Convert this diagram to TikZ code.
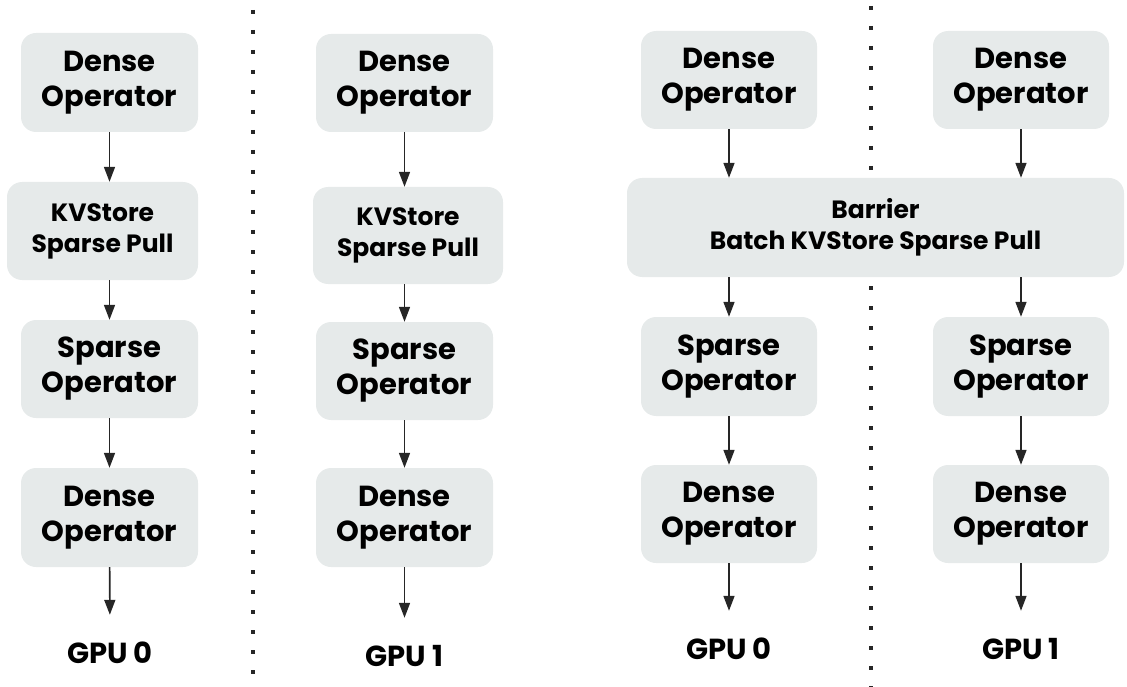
\documentclass[tikz,border=0pt]{standalone}
\usepackage{fontspec}
\setmainfont{Poppins}
\usetikzlibrary{arrows.meta}

\definecolor{boxgray}{HTML}{E6EAEA}
\definecolor{inkgray}{HTML}{262626}

\tikzset{
  op/.style={fill=boxgray, rounded corners=15pt, inner sep=0pt, align=center,
    text=black, font=\bfseries\fontsize{29}{35}\selectfont},
  smallop/.style={op, font=\bfseries\fontsize{25}{31}\selectfont},
  gpu/.style={inner sep=0pt, text height=23pt, text depth=0pt, minimum height=74pt,
    font=\bfseries\fontsize{29}{35}\selectfont},
  flow/.style={draw=inkgray, line width=1.6pt, -{Triangle[length=15pt,width=11pt]}},
  divider/.style={draw=inkgray, line width=4pt, dash pattern=on 4pt off 16pt}
}

\begin{document}
\begin{tikzpicture}[x=1pt, y=-1pt]
  \useasboundingbox (0,0) rectangle (1127,687);

  % dividers (drawn first, the barrier covers one)
  \draw[divider] (253,10) -- (253,687);
  \draw[divider] (871,6) -- (871,687);

  % one GPU, no barrier
  \node[op, minimum width=177pt, minimum height=99pt] (l1) at (109.5,82.5) {Dense\\Operator};
  \node[smallop, minimum width=191pt, minimum height=98pt] (l2) at (102.5,231) {KVStore\\Sparse Pull};
  \node[op, minimum width=177pt, minimum height=98pt] (l3) at (109.5,369) {Sparse\\Operator};
  \node[op, minimum width=177pt, minimum height=99pt] (l4) at (109.5,517.5) {Dense\\Operator};
  \node[gpu] (g0) at (110,652) {GPU 0};

  \draw[flow] (l1.south) -- (l1.south |- l2.north);
  \draw[flow] (l2.south -| l1) -- (l3.north);
  \draw[flow] (l3) -- (l4);
  \draw[flow] (l4) -- (g0);

  % other GPU
  \node[op, minimum width=177pt, minimum height=98pt] (m1) at (404.5,83) {Dense\\Operator};
  \node[smallop, minimum width=190pt, minimum height=97pt] (m2) at (408,235.5) {KVStore\\Sparse Pull};
  \node[op, minimum width=177pt, minimum height=98pt] (m3) at (404.5,371) {Sparse\\Operator};
  \node[op, minimum width=177pt, minimum height=99pt] (m4) at (404.5,517.5) {Dense\\Operator};
  \node[gpu] (g1) at (404.5,655) {GPU 1};

  \draw[flow] (m1.south) -- (m1.south |- m2.north);
  \draw[flow] (m2.south -| m1) -- (m3.north);
  \draw[flow] (m3) -- (m4);
  \draw[flow] (m4) -- (g1);

  % with barrier
  \node[op, minimum width=176pt, minimum height=98pt] (r1) at (729,80) {Dense\\Operator};
  \node[op, minimum width=176pt, minimum height=98pt] (r2) at (1021,80) {Dense\\Operator};
  \node[smallop, minimum width=497pt, minimum height=99pt] (bar) at (875.5,227.5) {Barrier\\Batch KVStore Sparse Pull};
  \node[op, minimum width=176pt, minimum height=99pt] (r3) at (729,366.5) {Sparse\\Operator};
  \node[op, minimum width=176pt, minimum height=99pt] (r4) at (1021,366.5) {Sparse\\Operator};
  \node[op, minimum width=176pt, minimum height=98pt] (r5) at (729,514) {Dense\\Operator};
  \node[op, minimum width=176pt, minimum height=98pt] (r6) at (1021,514) {Dense\\Operator};
  \node[gpu] (g2) at (729,648) {GPU 0};
  \node[gpu] (g3) at (1021,648) {GPU 1};

  \draw[flow] (r1.south) -- (r1.south |- bar.north);
  \draw[flow] (r2.south) -- (r2.south |- bar.north);
  \draw[flow] (bar.south -| r3) -- (r3.north);
  \draw[flow] (bar.south -| r4) -- (r4.north);
  \draw[flow] (r3) -- (r5);
  \draw[flow] (r4) -- (r6);
  \draw[flow] (r5) -- (g2);
  \draw[flow] (r6) -- (g3);
\end{tikzpicture}
\end{document}
